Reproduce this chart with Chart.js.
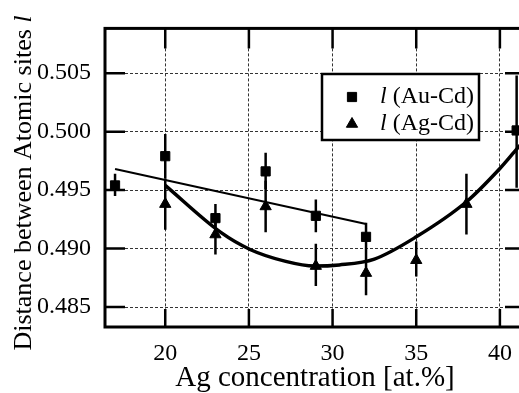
<!DOCTYPE html>
<html><head><meta charset="utf-8">
<script src="https://cdn.jsdelivr.net/npm/chart.js@4/dist/chart.umd.min.js"></script>
<style>
html,body{margin:0;padding:0;overflow:hidden;background:#fff;width:519px;height:393px;}
#wrap{position:absolute;left:0;top:0;width:545px;height:393px;}
canvas{display:block;}
</style></head><body>
<div id="wrap"><canvas id="c" width="545" height="393"></canvas></div>
<script>
// ---- data ----
const xTickVals = [20, 25, 30, 35, 40];
const yTickVals = [0.485, 0.490, 0.495, 0.500, 0.505];

const auX    = [17, 20, 23, 26, 29, 32, 41];
const auY    = [0.4954, 0.4979, 0.4926, 0.4966, 0.4928, 0.4910, 0.5001];
const auErrLo= [0.4945, 0.4960, 0.4914, 0.4951, 0.4914, 0.4898, 0.4952];
const auErrHi= [0.4964, 0.4998, 0.4938, 0.4982, 0.4942, 0.4922, 0.5048];

const agX    = [20, 23, 26, 29, 32, 35, 38];
const agY    = [0.4938, 0.4912, 0.4936, 0.4885, 0.4879, 0.4890, 0.4938];
const agErrLo= [0.4916, 0.4895, 0.4914, 0.4868, 0.4860, 0.4876, 0.4912];
const agErrHi= [0.4960, 0.4929, 0.4958, 0.4904, 0.4898, 0.4906, 0.4964];

const auFitX = [17, 32];
const auFitY = [0.4968, 0.4921];
const agFitX = [20, 23.3, 25.1, 27.2, 28.9, 30.4, 32.5, 35, 38, 40, 41, 41.5];
const agFitY = [0.4954, 0.4914, 0.4899, 0.4889, 0.4885, 0.4886, 0.4891, 0.4910, 0.4940, 0.49685, 0.4985, 0.4993];

const labelAu = '(Au-Cd)';
const labelAg = '(Ag-Cd)';
const symbolL = 'l';
const xTitle = 'Ag concentration [at.%]';
const yTitleMain = 'Distance between Atomic sites ';
const yTitleSym = 'l';

// ---- build library data ----
const pts = (xs, ys) => xs.map((x, i) => ({x, y: ys[i]}));
const errSegs = (xs, lo, hi) => {
  const out = [];
  xs.forEach((x, i) => { out.push({x, y: lo[i]}, {x, y: hi[i]}, {x, y: null}); });
  return out;
};

const SERIF = "'Liberation Serif', 'Times New Roman', 'DejaVu Serif', serif";
const BLACK = '#000';

const frameTicks = {
  id: 'frameTicks',
  afterDatasetsDraw(chart) {
    const {ctx, chartArea: a, scales} = chart;
    ctx.save();
    ctx.strokeStyle = BLACK;
    ctx.lineWidth = 2.5;
    ctx.setLineDash([]);
    scales.y.ticks.forEach(t => {
      const py = scales.y.getPixelForValue(t.value);
      ctx.beginPath();
      ctx.moveTo(a.left, py); ctx.lineTo(a.left + 20, py);
      ctx.moveTo(a.right - 20, py); ctx.lineTo(a.right, py);
      ctx.stroke();
    });
    scales.x.ticks.forEach(t => {
      const px = scales.x.getPixelForValue(t.value);
      ctx.beginPath();
      ctx.moveTo(px, a.bottom); ctx.lineTo(px, a.bottom - 18);
      ctx.moveTo(px, a.top); ctx.lineTo(px, a.top + 20);
      ctx.stroke();
    });
    ctx.lineWidth = 3;
    ctx.strokeRect(a.left, a.top, a.right - a.left, a.bottom - a.top);
    ctx.restore();
  }
};

const legendBox = {
  id: 'legendBox',
  afterDraw(chart) {
    const {ctx} = chart;
    const bx = 322, by = 74, bw = 157, bh = 66;
    ctx.save();
    ctx.fillStyle = '#fff';
    ctx.fillRect(bx, by, bw, bh);
    ctx.strokeStyle = BLACK;
    ctx.lineWidth = 2.5;
    ctx.strokeRect(bx, by, bw, bh);
    const rows = [
      {style: 'rect', radius: 6.5, text: labelAu, y: by + 23},
      {style: 'triangle', radius: 6.5, text: labelAg, y: by + 50}
    ];
    rows.forEach(r => {
      ctx.fillStyle = BLACK; ctx.strokeStyle = BLACK; ctx.lineWidth = 1;
      Chart.helpers.drawPoint(ctx, {pointStyle: r.style, radius: r.radius, borderWidth: 1, rotation: 0}, bx + 30, r.y);
      ctx.textBaseline = 'middle';
      ctx.textAlign = 'left';
      ctx.font = 'italic 24px ' + SERIF;
      const lx = bx + 58;
      ctx.fillText(symbolL, lx, r.y);
      const w = ctx.measureText(symbolL).width;
      ctx.font = '24px ' + SERIF;
      ctx.fillText(' ' + r.text, lx + w, r.y);
    });
    // y-axis title with italic symbol
    ctx.translate(24, 183);
    ctx.rotate(-Math.PI / 2);
    ctx.textBaseline = 'middle';
    ctx.textAlign = 'left';
    ctx.font = '26px ' + SERIF;
    const w1 = ctx.measureText(yTitleMain).width;
    ctx.font = 'italic 26px ' + SERIF;
    const w2 = ctx.measureText(yTitleSym).width;
    const start = -(w1 + w2) / 2;
    ctx.font = '26px ' + SERIF;
    ctx.fillText(yTitleMain, start, 0);
    ctx.font = 'italic 26px ' + SERIF;
    ctx.fillText(yTitleSym, start + w1, 0);
    ctx.restore();
  }
};

new Chart(document.getElementById('c'), {
  type: 'scatter',
  data: {
    datasets: [
      {label: 'fit Au-Cd', data: pts(auFitX, auFitY), showLine: true, borderColor: BLACK, borderWidth: 2, pointRadius: 0},
      {label: 'fit Ag-Cd', data: pts(agFitX, agFitY), showLine: true, borderColor: BLACK, borderWidth: 3.5, pointRadius: 0, cubicInterpolationMode: 'monotone'},
      {label: 'err Au-Cd', data: errSegs(auX, auErrLo, auErrHi), showLine: true, spanGaps: false, borderColor: BLACK, borderWidth: 2.5, pointRadius: 0},
      {label: 'err Ag-Cd', data: errSegs(agX, agErrLo, agErrHi), showLine: true, spanGaps: false, borderColor: BLACK, borderWidth: 2.5, pointRadius: 0},
      {label: 'l ' + labelAu, data: pts(auX, auY), pointStyle: 'rect', pointRadius: 6.5, backgroundColor: BLACK, borderColor: BLACK, borderWidth: 1},
      {label: 'l ' + labelAg, data: pts(agX, agY), pointStyle: 'triangle', pointRadius: 6.5, backgroundColor: BLACK, borderColor: BLACK, borderWidth: 1}
    ]
  },
  options: {
    responsive: false,
    animation: false,
    devicePixelRatio: 1,
    layout: {padding: {left: 0, top: 13, right: 20, bottom: 0}},
    plugins: {legend: {display: false}, tooltip: {enabled: false}},
    scales: {
      x: {
        type: 'linear', min: 16.4, max: 41.5,
        afterBuildTicks: s => { s.ticks = xTickVals.map(v => ({value: v})); },
        afterFit: s => { s.height = 66; },
        ticks: {color: BLACK, padding: 12, font: {family: SERIF, size: 24}, callback: v => String(v)},
        grid: {color: '#333', lineWidth: 1, drawTicks: false},
        border: {display: false, dash: [3, 2]},
        title: {display: true, text: xTitle, color: BLACK, font: {family: SERIF, size: 29, lineHeight: 1}, padding: {top: 0, bottom: 0.5}}
      },
      y: {
        type: 'linear', min: 0.48329, max: 0.50883,
        afterBuildTicks: s => { s.ticks = yTickVals.map(v => ({value: v})); },
        afterFit: s => { s.width = 105; },
        ticks: {color: BLACK, padding: 14, font: {family: SERIF, size: 24}, callback: v => Number(v).toFixed(3)},
        grid: {color: '#333', lineWidth: 1, drawTicks: false},
        border: {display: false, dash: [3, 2]}
      }
    }
  },
  plugins: [frameTicks, legendBox]
});
</script>
</body></html>
